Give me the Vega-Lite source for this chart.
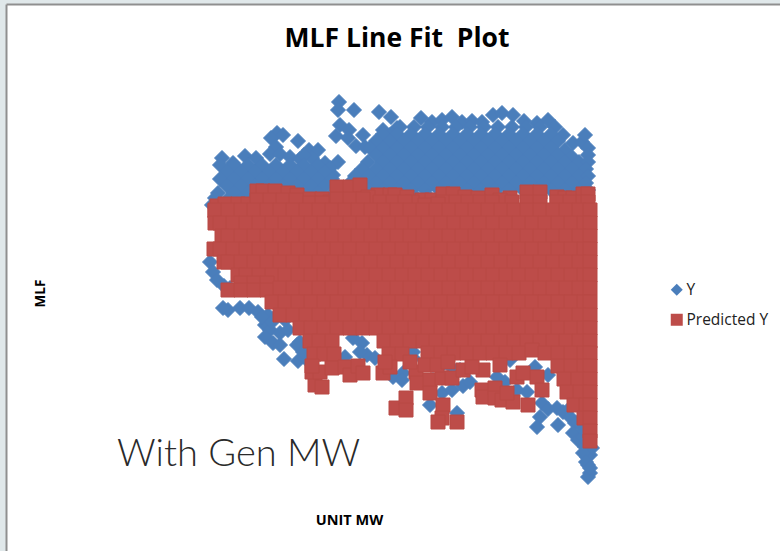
{"$schema":"https://vega.github.io/schema/vega-lite/v6.json","width":774,"height":547,"autosize":{"type":"none"},"padding":{"left":6,"top":4,"right":0,"bottom":0},"background":"#e0e8ea","view":{"fill":"white","stroke":null},
"title":{"text":"MLF Line Fit \u00a0Plot","anchor":"middle","frame":"group","dx":4,"dy":52,"font":"Open Sans","fontSize":26.5,"fontWeight":"bold","color":"#000000"},
"datasets":{"y":[
{"MW":139,"MLF":398},{"MW":138,"MLF":390},{"MW":154,"MLF":390},{"MW":179,"MLF":388},{"MW":191,"MLF":383},{"MW":140,"MLF":375},{"MW":136,"MLF":364},{"MW":149,"MLF":370},{"MW":148,"MLF":362},{"MW":163,"MLF":365},{"MW":156,"MLF":354},{"MW":165,"MLF":353},{"MW":173,"MLF":354},{"MW":183,"MLF":370},{"MW":190,"MLF":365},{"MW":197,"MLF":372},{"MW":177,"MLF":352},{"MW":187,"MLF":358},{"MW":193,"MLF":357},{"MW":77,"MLF":367},{"MW":83,"MLF":365},{"MW":71,"MLF":362},{"MW":98,"MLF":359},{"MW":76,"MLF":353},{"MW":109,"MLF":350},{"MW":118,"MLF":350},{"MW":22,"MLF":342},{"MW":45,"MLF":344},{"MW":56,"MLF":342},{"MW":33,"MLF":337},{"MW":138,"MLF":338},{"MW":125,"MLF":337},{"MW":133,"MLF":325},
{"MW":70,"MLF":346},{"MW":80,"MLF":346},{"MW":90,"MLF":343},{"MW":100,"MLF":341},{"MW":112,"MLF":342},{"MW":104,"MLF":345},
{"MW":20,"MLF":335},{"MW":34,"MLF":335},{"MW":48,"MLF":335},{"MW":62,"MLF":335},{"MW":76,"MLF":335},{"MW":90,"MLF":335},{"MW":104,"MLF":335},{"MW":118,"MLF":335},{"MW":130,"MLF":332},
{"MW":27,"MLF":328},{"MW":41,"MLF":328},{"MW":55,"MLF":328},{"MW":69,"MLF":328},{"MW":83,"MLF":328},{"MW":97,"MLF":328},{"MW":111,"MLF":328},{"MW":125,"MLF":328},
{"MW":20,"MLF":321},{"MW":34,"MLF":321},{"MW":48,"MLF":321},{"MW":62,"MLF":321},{"MW":76,"MLF":321},{"MW":90,"MLF":321},{"MW":104,"MLF":321},{"MW":118,"MLF":321},{"MW":132,"MLF":321},
{"MW":27,"MLF":314},{"MW":41,"MLF":314},{"MW":55,"MLF":314},{"MW":69,"MLF":314},{"MW":83,"MLF":314},{"MW":97,"MLF":314},{"MW":111,"MLF":314},{"MW":125,"MLF":314},{"MW":136,"MLF":314},
{"MW":18,"MLF":307},{"MW":34,"MLF":307},{"MW":48,"MLF":307},{"MW":62,"MLF":307},{"MW":76,"MLF":307},{"MW":90,"MLF":307},{"MW":104,"MLF":307},{"MW":118,"MLF":307},{"MW":133,"MLF":307},
{"MW":15,"MLF":302},{"MW":27,"MLF":300},{"MW":41,"MLF":300},{"MW":111,"MLF":300},{"MW":125,"MLF":300},{"MW":12,"MLF":295},{"MW":22,"MLF":295},
{"MW":221,"MLF":382},{"MW":232,"MLF":378},{"MW":242,"MLF":380},{"MW":252,"MLF":383},{"MW":262,"MLF":378},{"MW":272,"MLF":379},{"MW":282,"MLF":378},{"MW":293,"MLF":385},{"MW":302,"MLF":387},{"MW":313,"MLF":385},{"MW":324,"MLF":379},{"MW":337,"MLF":377},{"MW":348,"MLF":380},{"MW":355,"MLF":373},{"MW":363,"MLF":365},{"MW":373,"MLF":357},{"MW":382,"MLF":358},{"MW":385,"MLF":365},{"MW":388,"MLF":352},
{"MW":200,"MLF":373},{"MW":214,"MLF":373},{"MW":228,"MLF":373},{"MW":242,"MLF":373},{"MW":256,"MLF":373},{"MW":270,"MLF":373},{"MW":284,"MLF":373},{"MW":298,"MLF":373},{"MW":312,"MLF":373},{"MW":326,"MLF":373},{"MW":340,"MLF":373},
{"MW":183,"MLF":366},{"MW":197,"MLF":366},{"MW":211,"MLF":366},{"MW":225,"MLF":366},{"MW":239,"MLF":366},{"MW":253,"MLF":366},{"MW":267,"MLF":366},{"MW":281,"MLF":366},{"MW":295,"MLF":366},{"MW":309,"MLF":366},{"MW":323,"MLF":366},{"MW":337,"MLF":366},{"MW":351,"MLF":366},
{"MW":176,"MLF":359},{"MW":190,"MLF":359},{"MW":204,"MLF":359},{"MW":218,"MLF":359},{"MW":232,"MLF":359},{"MW":246,"MLF":359},{"MW":260,"MLF":359},{"MW":274,"MLF":359},{"MW":288,"MLF":359},{"MW":302,"MLF":359},{"MW":316,"MLF":359},{"MW":330,"MLF":359},{"MW":344,"MLF":359},{"MW":358,"MLF":359},
{"MW":170,"MLF":352},{"MW":183,"MLF":352},{"MW":197,"MLF":352},{"MW":211,"MLF":352},{"MW":225,"MLF":352},{"MW":239,"MLF":352},{"MW":253,"MLF":352},{"MW":267,"MLF":352},{"MW":281,"MLF":352},{"MW":295,"MLF":352},{"MW":309,"MLF":352},{"MW":323,"MLF":352},{"MW":337,"MLF":352},{"MW":351,"MLF":352},{"MW":365,"MLF":350},
{"MW":176,"MLF":345},{"MW":190,"MLF":345},{"MW":204,"MLF":345},{"MW":218,"MLF":345},{"MW":232,"MLF":345},{"MW":246,"MLF":345},{"MW":260,"MLF":345},{"MW":274,"MLF":345},{"MW":288,"MLF":345},{"MW":302,"MLF":345},{"MW":316,"MLF":345},{"MW":330,"MLF":345},{"MW":344,"MLF":345},{"MW":358,"MLF":345},{"MW":372,"MLF":343},{"MW":388,"MLF":345},
{"MW":168,"MLF":338},{"MW":183,"MLF":338},{"MW":197,"MLF":338},{"MW":211,"MLF":338},{"MW":225,"MLF":338},{"MW":239,"MLF":338},{"MW":253,"MLF":338},{"MW":267,"MLF":338},{"MW":281,"MLF":338},{"MW":295,"MLF":338},{"MW":309,"MLF":338},{"MW":323,"MLF":338},{"MW":337,"MLF":338},{"MW":351,"MLF":338},{"MW":365,"MLF":338},{"MW":379,"MLF":338},{"MW":388,"MLF":338},
{"MW":162,"MLF":331},{"MW":176,"MLF":331},{"MW":190,"MLF":331},{"MW":204,"MLF":331},{"MW":218,"MLF":331},{"MW":232,"MLF":331},{"MW":246,"MLF":331},{"MW":260,"MLF":331},{"MW":274,"MLF":331},{"MW":288,"MLF":331},{"MW":302,"MLF":331},{"MW":316,"MLF":331},{"MW":330,"MLF":331},{"MW":344,"MLF":331},{"MW":358,"MLF":331},{"MW":372,"MLF":331},{"MW":386,"MLF":331},
{"MW":155,"MLF":324},{"MW":169,"MLF":324},{"MW":183,"MLF":324},{"MW":197,"MLF":324},{"MW":211,"MLF":324},{"MW":225,"MLF":324},{"MW":239,"MLF":324},{"MW":253,"MLF":324},{"MW":267,"MLF":324},{"MW":281,"MLF":324},{"MW":295,"MLF":324},{"MW":309,"MLF":324},{"MW":323,"MLF":324},{"MW":337,"MLF":324},{"MW":351,"MLF":324},{"MW":365,"MLF":324},{"MW":379,"MLF":324},{"MW":388,"MLF":324},
{"MW":150,"MLF":317},{"MW":162,"MLF":317},{"MW":176,"MLF":317},{"MW":190,"MLF":317},{"MW":204,"MLF":317},{"MW":218,"MLF":317},{"MW":232,"MLF":317},{"MW":246,"MLF":317},{"MW":260,"MLF":317},{"MW":274,"MLF":317},{"MW":288,"MLF":317},{"MW":302,"MLF":317},{"MW":316,"MLF":317},{"MW":330,"MLF":317},{"MW":344,"MLF":317},{"MW":358,"MLF":317},{"MW":372,"MLF":317},{"MW":386,"MLF":317},
{"MW":169,"MLF":310},{"MW":183,"MLF":310},{"MW":197,"MLF":310},{"MW":211,"MLF":310},{"MW":225,"MLF":310},{"MW":239,"MLF":310},{"MW":253,"MLF":310},{"MW":267,"MLF":310},{"MW":281,"MLF":310},{"MW":295,"MLF":310},{"MW":309,"MLF":310},{"MW":323,"MLF":310},{"MW":337,"MLF":310},{"MW":351,"MLF":310},{"MW":365,"MLF":310},{"MW":379,"MLF":310},{"MW":388,"MLF":310},
{"MW":215,"MLF":304},{"MW":228,"MLF":304},{"MW":240,"MLF":303},{"MW":300,"MLF":303},{"MW":310,"MLF":302},
{"MW":10,"MLF":238},{"MW":13,"MLF":228},{"MW":17,"MLF":220},{"MW":24,"MLF":214},{"MW":30,"MLF":212},
{"MW":28,"MLF":190},{"MW":40,"MLF":192},{"MW":49,"MLF":192},{"MW":23,"MLF":192},{"MW":68,"MLF":185},{"MW":75,"MLF":183},{"MW":65,"MLF":175},{"MW":70,"MLF":170},{"MW":65,"MLF":163},{"MW":73,"MLF":157},{"MW":80,"MLF":167},{"MW":88,"MLF":170},{"MW":100,"MLF":158},{"MW":97,"MLF":155},{"MW":84,"MLF":141},{"MW":98,"MLF":139},{"MW":105,"MLF":142},{"MW":103,"MLF":148},{"MW":80,"MLF":155},
{"MW":153,"MLF":162},{"MW":162,"MLF":157},{"MW":167,"MLF":145},{"MW":160,"MLF":148},{"MW":175,"MLF":142},{"MW":145,"MLF":143},{"MW":193,"MLF":123},{"MW":197,"MLF":168},
{"MW":203,"MLF":127},{"MW":202,"MLF":120},{"MW":213,"MLF":148},{"MW":213,"MLF":142},{"MW":233,"MLF":135},{"MW":242,"MLF":135},{"MW":250,"MLF":134},{"MW":230,"MLF":95},{"MW":242,"MLF":107},{"MW":252,"MLF":110},{"MW":263,"MLF":114},{"MW":270,"MLF":118},{"MW":257,"MLF":87},{"MW":260,"MLF":130},{"MW":297,"MLF":123},{"MW":305,"MLF":118},{"MW":317,"MLF":110},{"MW":327,"MLF":108},{"MW":310,"MLF":140},{"MW":335,"MLF":133},{"MW":348,"MLF":125},
{"MW":342,"MLF":97},{"MW":348,"MLF":91},{"MW":340,"MLF":83},{"MW":337,"MLF":73},{"MW":358,"MLF":75},{"MW":357,"MLF":92},{"MW":363,"MLF":88},{"MW":370,"MLF":83},{"MW":375,"MLF":77},{"MW":373,"MLF":67},{"MW":378,"MLF":60},{"MW":383,"MLF":63},{"MW":385,"MLF":53},{"MW":392,"MLF":52},{"MW":390,"MLF":45},{"MW":387,"MLF":43},{"MW":383,"MLF":47},{"MW":388,"MLF":35},{"MW":390,"MLF":27},{"MW":388,"MLF":23},{"MW":370,"MLF":92},{"MW":378,"MLF":78},{"MW":384,"MLF":70},{"MW":388,"MLF":58},{"MW":386,"MLF":38},{"MW":390,"MLF":32},
{"MW":142,"MLF":188},{"MW":128,"MLF":200},{"MW":158,"MLF":172},{"MW":186,"MLF":160},{"MW":110,"MLF":168},{"MW":120,"MLF":158},{"MW":58,"MLF":188},{"MW":62,"MLF":183},{"MW":72,"MLF":178},{"MW":85,"MLF":180}
],"p":[
{"MW":15,"MLF":289},{"MW":17,"MLF":294},{"MW":25,"MLF":296},{"MW":38,"MLF":296},{"MW":48,"MLF":296},{"MW":57,"MLF":309},{"MW":63,"MLF":309},{"MW":75,"MLF":309},{"MW":88,"MLF":307},{"MW":97,"MLF":305},{"MW":110,"MLF":301},{"MW":122,"MLF":301},{"MW":137,"MLF":313},{"MW":150,"MLF":313},{"MW":160,"MLF":315},{"MW":178,"MLF":305},{"MW":190,"MLF":305},{"MW":195,"MLF":305},{"MW":207,"MLF":303},{"MW":222,"MLF":300},{"MW":232,"MLF":300},{"MW":243,"MLF":306},{"MW":253,"MLF":306},{"MW":265,"MLF":303},{"MW":278,"MLF":302},{"MW":292,"MLF":305},{"MW":310,"MLF":302},{"MW":327,"MLF":308},{"MW":340,"MLF":308},{"MW":357,"MLF":303},{"MW":365,"MLF":302},{"MW":373,"MLF":302},{"MW":383,"MLF":306},{"MW":388,"MLF":306},{"MW":168,"MLF":303},{"MW":300,"MLF":300},{"MW":212,"MLF":298},{"MW":130,"MLF":298},
{"MW":57,"MLF":300},{"MW":70,"MLF":300},{"MW":83,"MLF":300},{"MW":96,"MLF":300},{"MW":137,"MLF":301},{"MW":150,"MLF":301},{"MW":163,"MLF":301},{"MW":180,"MLF":298},{"MW":193,"MLF":298},{"MW":205,"MLF":298},{"MW":243,"MLF":298},{"MW":256,"MLF":298},{"MW":268,"MLF":298},{"MW":280,"MLF":298},{"MW":292,"MLF":298},{"MW":312,"MLF":298},{"MW":327,"MLF":298},{"MW":340,"MLF":298},{"MW":357,"MLF":298},{"MW":370,"MLF":298},{"MW":383,"MLF":298},{"MW":388,"MLF":298},{"MW":225,"MLF":295},{"MW":238,"MLF":296},{"MW":110,"MLF":297},{"MW":122,"MLF":297},
{"MW":15,"MLF":290},{"MW":28,"MLF":290},{"MW":41,"MLF":290},{"MW":54,"MLF":290},{"MW":67,"MLF":290},{"MW":80,"MLF":290},{"MW":93,"MLF":290},{"MW":106,"MLF":290},{"MW":119,"MLF":290},{"MW":132,"MLF":290},{"MW":145,"MLF":290},{"MW":158,"MLF":290},{"MW":171,"MLF":290},{"MW":184,"MLF":290},{"MW":197,"MLF":290},{"MW":210,"MLF":290},{"MW":223,"MLF":290},{"MW":236,"MLF":290},{"MW":249,"MLF":290},{"MW":262,"MLF":290},{"MW":275,"MLF":290},{"MW":288,"MLF":290},{"MW":301,"MLF":290},{"MW":314,"MLF":290},{"MW":327,"MLF":290},{"MW":340,"MLF":290},{"MW":353,"MLF":290},{"MW":366,"MLF":290},{"MW":379,"MLF":290},{"MW":390,"MLF":290},
{"MW":15,"MLF":277},{"MW":20,"MLF":277},{"MW":33,"MLF":277},{"MW":46,"MLF":277},{"MW":59,"MLF":277},{"MW":72,"MLF":277},{"MW":85,"MLF":277},{"MW":98,"MLF":277},{"MW":111,"MLF":277},{"MW":124,"MLF":277},{"MW":137,"MLF":277},{"MW":150,"MLF":277},{"MW":163,"MLF":277},{"MW":176,"MLF":277},{"MW":189,"MLF":277},{"MW":202,"MLF":277},{"MW":215,"MLF":277},{"MW":228,"MLF":277},{"MW":241,"MLF":277},{"MW":254,"MLF":277},{"MW":267,"MLF":277},{"MW":280,"MLF":277},{"MW":293,"MLF":277},{"MW":306,"MLF":277},{"MW":319,"MLF":277},{"MW":332,"MLF":277},{"MW":345,"MLF":277},{"MW":358,"MLF":277},{"MW":371,"MLF":277},{"MW":384,"MLF":277},{"MW":390,"MLF":277},
{"MW":22,"MLF":264},{"MW":28,"MLF":264},{"MW":41,"MLF":264},{"MW":54,"MLF":264},{"MW":67,"MLF":264},{"MW":80,"MLF":264},{"MW":93,"MLF":264},{"MW":106,"MLF":264},{"MW":119,"MLF":264},{"MW":132,"MLF":264},{"MW":145,"MLF":264},{"MW":158,"MLF":264},{"MW":171,"MLF":264},{"MW":184,"MLF":264},{"MW":197,"MLF":264},{"MW":210,"MLF":264},{"MW":223,"MLF":264},{"MW":236,"MLF":264},{"MW":249,"MLF":264},{"MW":262,"MLF":264},{"MW":275,"MLF":264},{"MW":288,"MLF":264},{"MW":301,"MLF":264},{"MW":314,"MLF":264},{"MW":327,"MLF":264},{"MW":340,"MLF":264},{"MW":353,"MLF":264},{"MW":366,"MLF":264},{"MW":379,"MLF":264},{"MW":390,"MLF":264},
{"MW":14,"MLF":251},{"MW":20,"MLF":251},{"MW":33,"MLF":251},{"MW":46,"MLF":251},{"MW":59,"MLF":251},{"MW":72,"MLF":251},{"MW":85,"MLF":251},{"MW":98,"MLF":251},{"MW":111,"MLF":251},{"MW":124,"MLF":251},{"MW":137,"MLF":251},{"MW":150,"MLF":251},{"MW":163,"MLF":251},{"MW":176,"MLF":251},{"MW":189,"MLF":251},{"MW":202,"MLF":251},{"MW":215,"MLF":251},{"MW":228,"MLF":251},{"MW":241,"MLF":251},{"MW":254,"MLF":251},{"MW":267,"MLF":251},{"MW":280,"MLF":251},{"MW":293,"MLF":251},{"MW":306,"MLF":251},{"MW":319,"MLF":251},{"MW":332,"MLF":251},{"MW":345,"MLF":251},{"MW":358,"MLF":251},{"MW":371,"MLF":251},{"MW":384,"MLF":251},{"MW":390,"MLF":251},
{"MW":24,"MLF":238},{"MW":28,"MLF":238},{"MW":41,"MLF":238},{"MW":54,"MLF":238},{"MW":67,"MLF":238},{"MW":80,"MLF":238},{"MW":93,"MLF":238},{"MW":106,"MLF":238},{"MW":119,"MLF":238},{"MW":132,"MLF":238},{"MW":145,"MLF":238},{"MW":158,"MLF":238},{"MW":171,"MLF":238},{"MW":184,"MLF":238},{"MW":197,"MLF":238},{"MW":210,"MLF":238},{"MW":223,"MLF":238},{"MW":236,"MLF":238},{"MW":249,"MLF":238},{"MW":262,"MLF":238},{"MW":275,"MLF":238},{"MW":288,"MLF":238},{"MW":301,"MLF":238},{"MW":314,"MLF":238},{"MW":327,"MLF":238},{"MW":340,"MLF":238},{"MW":353,"MLF":238},{"MW":366,"MLF":238},{"MW":379,"MLF":238},{"MW":390,"MLF":238},
{"MW":38,"MLF":225},{"MW":46,"MLF":225},{"MW":59,"MLF":225},{"MW":72,"MLF":225},{"MW":85,"MLF":225},{"MW":98,"MLF":225},{"MW":111,"MLF":225},{"MW":124,"MLF":225},{"MW":137,"MLF":225},{"MW":150,"MLF":225},{"MW":163,"MLF":225},{"MW":176,"MLF":225},{"MW":189,"MLF":225},{"MW":202,"MLF":225},{"MW":215,"MLF":225},{"MW":228,"MLF":225},{"MW":241,"MLF":225},{"MW":254,"MLF":225},{"MW":267,"MLF":225},{"MW":280,"MLF":225},{"MW":293,"MLF":225},{"MW":306,"MLF":225},{"MW":319,"MLF":225},{"MW":332,"MLF":225},{"MW":345,"MLF":225},{"MW":358,"MLF":225},{"MW":371,"MLF":225},{"MW":384,"MLF":225},{"MW":390,"MLF":225},
{"MW":41,"MLF":217},{"MW":54,"MLF":217},{"MW":67,"MLF":217},
{"MW":28,"MLF":210},{"MW":41,"MLF":210},{"MW":54,"MLF":210},{"MW":67,"MLF":210},{"MW":80,"MLF":212},{"MW":93,"MLF":212},{"MW":106,"MLF":212},{"MW":119,"MLF":212},{"MW":132,"MLF":212},{"MW":145,"MLF":212},{"MW":158,"MLF":212},{"MW":171,"MLF":212},{"MW":184,"MLF":212},{"MW":197,"MLF":212},{"MW":210,"MLF":212},{"MW":223,"MLF":212},{"MW":236,"MLF":212},{"MW":249,"MLF":212},{"MW":262,"MLF":212},{"MW":275,"MLF":212},{"MW":288,"MLF":212},{"MW":301,"MLF":212},{"MW":314,"MLF":212},{"MW":327,"MLF":212},{"MW":340,"MLF":212},{"MW":353,"MLF":212},{"MW":366,"MLF":212},{"MW":379,"MLF":212},{"MW":390,"MLF":212},
{"MW":72,"MLF":198},{"MW":85,"MLF":198},{"MW":98,"MLF":198},{"MW":111,"MLF":198},{"MW":124,"MLF":198},{"MW":137,"MLF":198},{"MW":150,"MLF":198},{"MW":163,"MLF":198},{"MW":176,"MLF":198},{"MW":189,"MLF":198},{"MW":202,"MLF":198},{"MW":215,"MLF":198},{"MW":228,"MLF":198},{"MW":241,"MLF":198},{"MW":254,"MLF":198},{"MW":267,"MLF":198},{"MW":280,"MLF":198},{"MW":293,"MLF":198},{"MW":306,"MLF":198},{"MW":319,"MLF":198},{"MW":332,"MLF":198},{"MW":345,"MLF":198},{"MW":358,"MLF":198},{"MW":371,"MLF":198},{"MW":384,"MLF":198},{"MW":390,"MLF":198},
{"MW":80,"MLF":185},{"MW":93,"MLF":185},{"MW":106,"MLF":185},{"MW":119,"MLF":185},{"MW":132,"MLF":185},{"MW":145,"MLF":185},{"MW":158,"MLF":185},{"MW":171,"MLF":185},{"MW":184,"MLF":185},{"MW":197,"MLF":185},{"MW":210,"MLF":185},{"MW":223,"MLF":185},{"MW":236,"MLF":185},{"MW":249,"MLF":185},{"MW":262,"MLF":185},{"MW":275,"MLF":185},{"MW":288,"MLF":185},{"MW":301,"MLF":185},{"MW":314,"MLF":185},{"MW":327,"MLF":185},{"MW":340,"MLF":185},{"MW":353,"MLF":185},{"MW":366,"MLF":185},{"MW":379,"MLF":185},{"MW":390,"MLF":185},
{"MW":100,"MLF":172},{"MW":111,"MLF":172},{"MW":124,"MLF":172},{"MW":137,"MLF":172},{"MW":150,"MLF":172},{"MW":163,"MLF":172},{"MW":176,"MLF":172},{"MW":189,"MLF":172},{"MW":202,"MLF":172},{"MW":215,"MLF":172},{"MW":228,"MLF":172},{"MW":241,"MLF":172},{"MW":254,"MLF":172},{"MW":267,"MLF":172},{"MW":280,"MLF":172},{"MW":293,"MLF":172},{"MW":306,"MLF":172},{"MW":319,"MLF":172},{"MW":332,"MLF":172},{"MW":345,"MLF":172},{"MW":358,"MLF":172},{"MW":371,"MLF":172},{"MW":384,"MLF":172},{"MW":390,"MLF":172},
{"MW":110,"MLF":159},{"MW":119,"MLF":159},{"MW":132,"MLF":159},{"MW":184,"MLF":159},{"MW":197,"MLF":159},{"MW":210,"MLF":159},{"MW":223,"MLF":159},{"MW":236,"MLF":159},{"MW":249,"MLF":159},{"MW":262,"MLF":159},{"MW":275,"MLF":159},{"MW":288,"MLF":159},{"MW":301,"MLF":159},{"MW":314,"MLF":159},{"MW":327,"MLF":159},{"MW":340,"MLF":159},{"MW":353,"MLF":159},{"MW":366,"MLF":159},{"MW":379,"MLF":159},{"MW":390,"MLF":159},
{"MW":114,"MLF":146},{"MW":124,"MLF":146},{"MW":134,"MLF":146},{"MW":189,"MLF":146},{"MW":202,"MLF":146},{"MW":228,"MLF":147},{"MW":241,"MLF":147},{"MW":254,"MLF":147},{"MW":267,"MLF":147},{"MW":280,"MLF":147},{"MW":293,"MLF":147},{"MW":306,"MLF":147},{"MW":319,"MLF":147},{"MW":332,"MLF":150},{"MW":345,"MLF":147},{"MW":358,"MLF":147},{"MW":371,"MLF":147},{"MW":384,"MLF":147},{"MW":390,"MLF":147},
{"MW":358,"MLF":134},{"MW":371,"MLF":134},{"MW":384,"MLF":134},{"MW":390,"MLF":134},{"MW":364,"MLF":121},{"MW":378,"MLF":121},{"MW":390,"MLF":121},{"MW":367,"MLF":108},{"MW":380,"MLF":108},{"MW":390,"MLF":108},{"MW":374,"MLF":95},{"MW":386,"MLF":95},{"MW":390,"MLF":95},{"MW":384,"MLF":82},{"MW":390,"MLF":82},{"MW":390,"MLF":69},{"MW":390,"MLF":59},
{"MW":115,"MLF":115},{"MW":122,"MLF":113},{"MW":112,"MLF":128},{"MW":120,"MLF":128},{"MW":112,"MLF":134},{"MW":132,"MLF":132},{"MW":145,"MLF":133},{"MW":150,"MLF":125},{"MW":158,"MLF":134},{"MW":163,"MLF":127},{"MW":183,"MLF":127},{"MW":190,"MLF":133},{"MW":185,"MLF":138},{"MW":196,"MLF":92},{"MW":206,"MLF":102},{"MW":206,"MLF":90},
{"MW":216,"MLF":128},{"MW":217,"MLF":117},{"MW":230,"MLF":120},{"MW":230,"MLF":107},{"MW":242,"MLF":122},{"MW":252,"MLF":122},{"MW":263,"MLF":130},{"MW":243,"MLF":95},{"MW":242,"MLF":82},{"MW":238,"MLF":78},{"MW":257,"MLF":78},{"MW":282,"MLF":110},{"MW":283,"MLF":103},{"MW":295,"MLF":112},{"MW":295,"MLF":102},{"MW":302,"MLF":100},{"MW":313,"MLF":98},{"MW":328,"MLF":95},{"MW":307,"MLF":107},{"MW":337,"MLF":123},{"MW":342,"MLF":110},{"MW":317,"MLF":123},{"MW":323,"MLF":127},{"MW":283,"MLF":130},{"MW":300,"MLF":135},{"MW":210,"MLF":138},{"MW":225,"MLF":135},{"MW":237,"MLF":135},{"MW":248,"MLF":138},{"MW":272,"MLF":133}
],"note":[{"label":"With Gen MW","MW":-83,"MLF":45}]},
"layer":[
{"data":{"name":"y"},"mark":{"type":"point","filled":true,"size":225,"opacity":1,"stroke":"#4a7ebb","strokeWidth":1},
"encoding":{
"x":{"field":"MW","type":"quantitative","scale":{"domain":[-194,580],"nice":false,"zero":false},"axis":{"orient":"top","title":"UNIT MW","titleX":343,"titleY":516,"titleBaseline":"middle","titleFont":"Open Sans","titleFontSize":14.5,"titleFontWeight":"bold","titleColor":"#000000","labels":false,"ticks":false,"grid":false,"domain":true,"domainColor":"#8f8f8f","domainWidth":2}},
"y":{"field":"MLF","type":"quantitative","scale":{"domain":[-51,496],"nice":false,"zero":false},"axis":{"orient":"left","title":"MLF","titleX":34,"titleY":289,"titleAngle":-90,"titleBaseline":"middle","titleFont":"Open Sans","titleFontSize":13.5,"titleFontWeight":"bold","titleColor":"#000000","labels":false,"ticks":false,"grid":false,"domain":true,"domainColor":"#8f8f8f","domainWidth":2}},
"color":{"datum":"Y","scale":{"domain":["Y","Predicted Y"],"range":["#4a7ebb","#bd4c49"]},"legend":{"title":null,"orient":"none","legendX":663,"legendY":278,"rowPadding":13,"symbolSize":144,"symbolStrokeWidth":0,"labelFont":"Open Sans","labelFontSize":15.5,"labelColor":"#222222","labelOffset":2}},
"shape":{"datum":"Y","scale":{"domain":["Y","Predicted Y"],"range":["diamond","square"]},"legend":{"title":null,"orient":"none","legendX":663,"legendY":278,"rowPadding":13,"symbolSize":144,"symbolStrokeWidth":0,"labelFont":"Open Sans","labelFontSize":15.5,"labelColor":"#222222","labelOffset":2}}}},
{"data":{"name":"p"},"mark":{"type":"point","filled":true,"size":196,"opacity":1,"strokeWidth":1,"stroke":"#b84845"},
"encoding":{"x":{"field":"MW","type":"quantitative"},"y":{"field":"MLF","type":"quantitative"},"color":{"datum":"Predicted Y"},"shape":{"datum":"Predicted Y"}}},
{"data":{"name":"note"},"mark":{"type":"text","align":"left","baseline":"middle","font":"Lato","fontWeight":300,"fontSize":38,"color":"#2a2a2a"},
"encoding":{"x":{"field":"MW","type":"quantitative"},"y":{"field":"MLF","type":"quantitative"},"text":{"field":"label"}}}
]}
